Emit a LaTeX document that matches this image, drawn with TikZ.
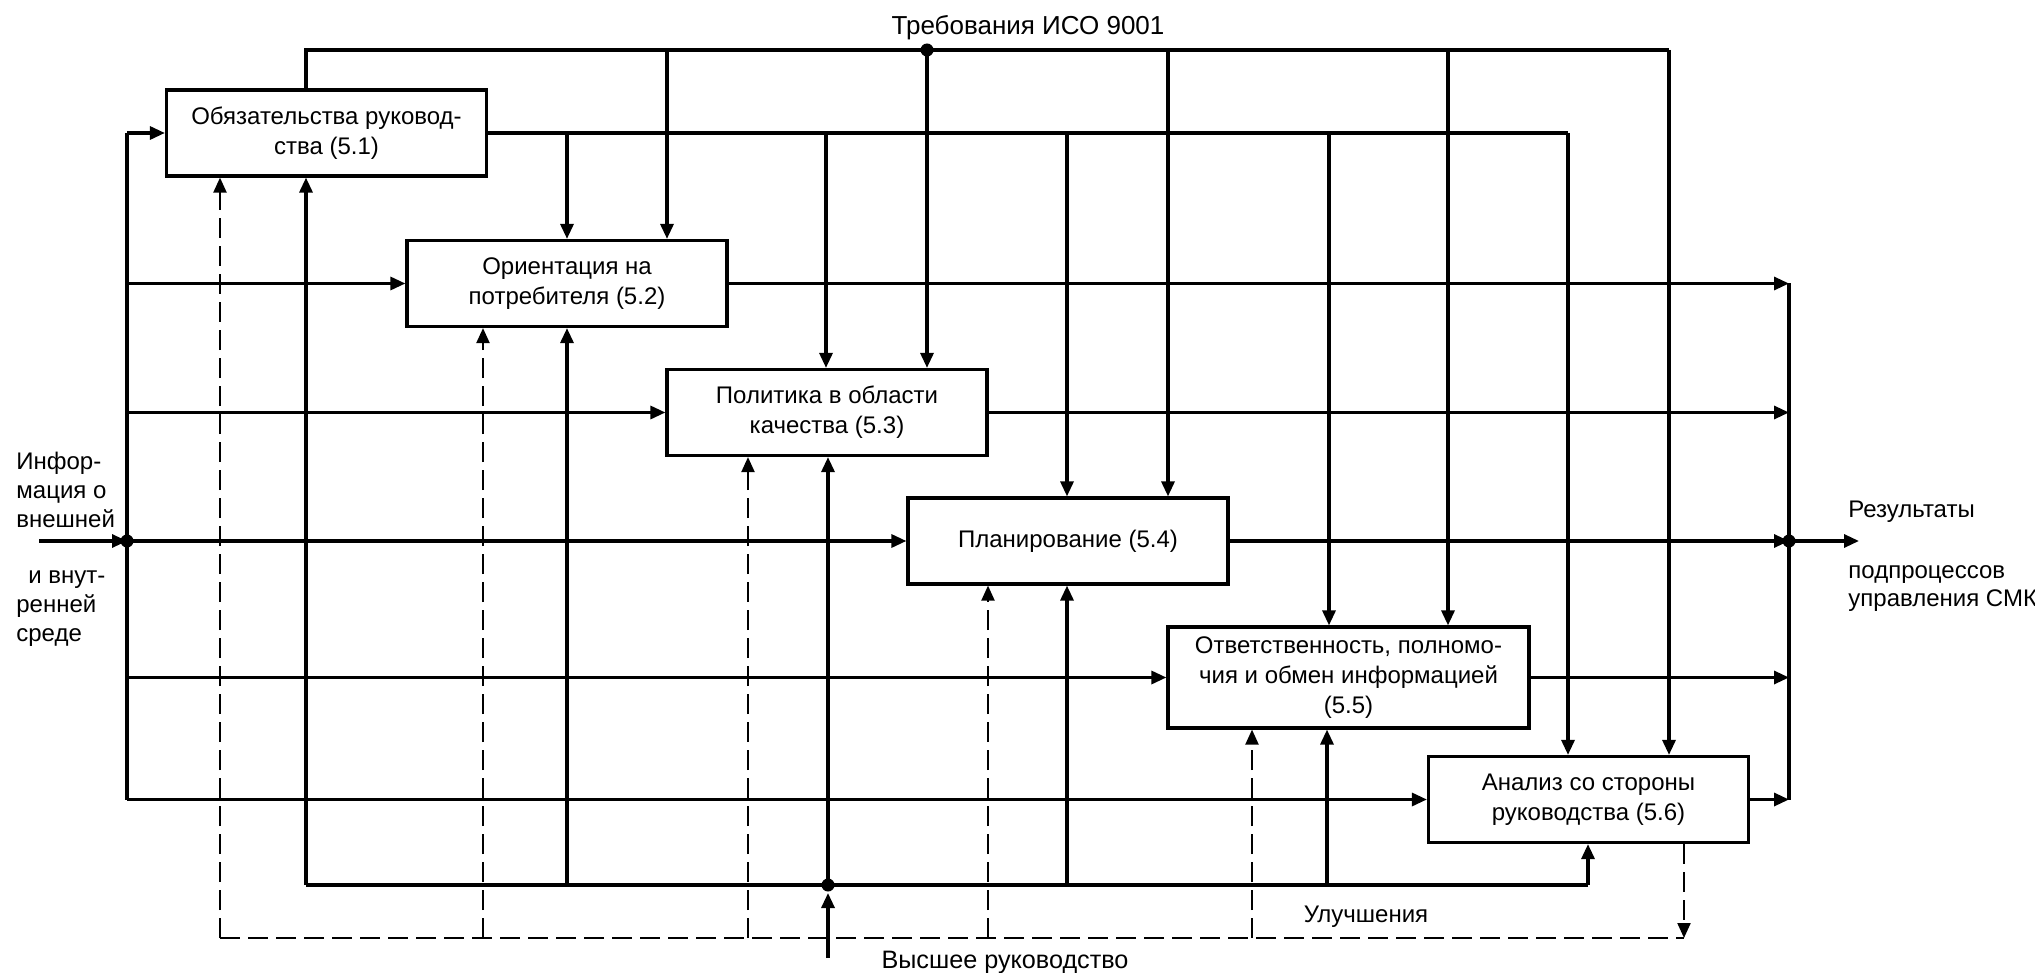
\documentclass[tikz,border=0pt]{standalone}
\usepackage{fontspec}
\setmainfont{Liberation Sans}
\usetikzlibrary{arrows.meta,calc}
\begin{document}
\begin{tikzpicture}[x=0.5pt,y=-0.5pt,
  box/.style={draw, line width=1.6pt, minimum width=160pt, minimum height=43pt, align=center, font=\fontsize{12}{15}\selectfont, inner sep=2pt, fill=white},
  ln/.style={line width=1.6pt},
  arr/.style={ln, -{Triangle[length=7.5pt,width=6.5pt]}},
  dsh/.style={line width=1.1pt, dash pattern=on 10pt off 4pt},
  darr/.style={dsh, -{Triangle[length=7.5pt,width=6.5pt]}},
  lbl/.style={font=\fontsize{12}{13}\selectfont, inner sep=0pt},
  dot/.style={circle, fill, inner sep=0pt, minimum size=6.5pt}
]
\useasboundingbox (0,0) rectangle (2035,973);
% boxes
\node[box] (b1) at (326.5,133) {Обязательства руковод-\\ства (5.1)};
\node[box] (b2) at (567,283.5) {Ориентация на\\потребителя (5.2)};
\node[box] (b3) at (827,412.5) {Политика в области\\качества (5.3)};
\node[box] (b4) at (1068,541) {Планирование (5.4)};
\node[box, minimum width=180.5pt, minimum height=50.5pt] (b5) at (1348.5,677.5) {Ответственность, полномо-\\чия и обмен информацией\\(5.5)};
\node[box] (b6) at (1588.5,799.5) {Анализ со стороны\\руководства (5.6)};
% labels
\node[lbl, font=\fontsize{13}{14}\selectfont] (req) at (1028,28) {Требования ИСО 9001};
\node[lbl, anchor=north west, align=left, font=\fontsize{12}{14.5}\selectfont] (info1) at (16,452) {Инфор-\\мация о\\внешней};
\node[lbl, anchor=north west, align=left, font=\fontsize{12}{14.5}\selectfont] (info2) at (16,570) {\hspace{0.5em}и внут-\\ренней\\среде};
\node[lbl, anchor=west] (res1) at (1848,512) {Результаты};
\node[lbl, anchor=north west, align=left, font=\fontsize{12}{14.3}\selectfont] (res2) at (1848,565) {подпроцессов\\управления СМК};
\node[lbl] (impr) at (1366,917) {Улучшения};
\node[lbl, font=\fontsize{12.6}{14}\selectfont] (mgmt) at (1005,962) {Высшее руководство};
% top bus (requirements)
\coordinate (tL) at (306,50);
\coordinate (tR) at (1669,50);
\coordinate (t2) at (667,50);
\coordinate (t3) at (927,50);
\coordinate (t4) at (1168,50);
\coordinate (t5) at (1448,50);
\draw[ln] (b1.north -| tL) -- (tL) -- (tR);
\draw[arr] (tR) -- (tR |- b6.north);
\foreach \c/\b in {t2/b2,t3/b3,t4/b4,t5/b5} \draw[arr] (\c) -- (\c |- \b.north);
\node[dot] (tdot) at (t3) {};
% second bus from 5.1
\coordinate (sR) at (1568,133);
\coordinate (s2) at (567,133);
\coordinate (s3) at (826,133);
\coordinate (s4) at (1067,133);
\coordinate (s5) at (1329,133);
\draw[ln] (b1.east) -- (sR);
\draw[arr] (sR) -- (sR |- b6.north);
\foreach \c/\b in {s2/b2,s3/b3,s4/b4,s5/b5} \draw[arr] (\c) -- (\c |- \b.north);
% bottom bus (top management)
\coordinate (uL) at (306,885);
\coordinate (uR) at (1588,885);
\coordinate (u2) at (567,885);
\coordinate (u3) at (828,885);
\coordinate (u4) at (1067,885);
\coordinate (u5) at (1327,885);
\draw[ln] (uL) -- (uR);
\draw[arr] (uL) -- (uL |- b1.south);
\draw[arr] (uR) -- (uR |- b6.south);
\foreach \c/\b in {u2/b2,u3/b3,u4/b4,u5/b5} \draw[arr] (\c) -- (\c |- \b.south);
\coordinate (vin) at (828,958);
\draw[arr, shorten >=4pt] (vin) -- (u3);
\node[dot] (udot) at (u3) {};
% dashed bus (improvements)
\coordinate (dL) at (220,938);
\coordinate (dR) at (1684,938);
\coordinate (d2) at (483,938);
\coordinate (d3) at (748,938);
\coordinate (d4) at (988,938);
\coordinate (d5) at (1252,938);
\draw[dsh] (dL) -- (dR);
\draw[darr] (b6.south -| dR) -- (dR);
\draw[darr] (dL) -- (dL |- b1.south);
\foreach \c/\b in {d2/b2,d3/b3,d4/b4,d5/b5} \draw[darr] (\c) -- (\c |- \b.south);
% left bus (information)
\coordinate (lT) at (127,133);
\coordinate (lB) at (127,799.5);
\coordinate (in) at (39,541);
\draw[ln] (lT) -- (lB);
\foreach \b in {b1,b2,b3,b4,b5,b6} \draw[arr] (lT |- \b.west) -- (\b.west);
\draw[arr] (in) -- (lT |- b4.west);
\node[dot] (ldot) at (lT |- b4.west) {};
% right bus (results)
\coordinate (rT) at (1789,283.5);
\coordinate (rB) at (1789,799.5);
\coordinate (out) at (1859,541);
\draw[ln] (rT) -- (rB);
\foreach \b in {b2,b3,b4,b5,b6} \draw[arr] (\b.east) -- (\b.east -| rT);
\node[dot] (rdot) at (b4.east -| rT) {};
\draw[arr] (rdot.center) -- (out);
\end{tikzpicture}
\end{document}
